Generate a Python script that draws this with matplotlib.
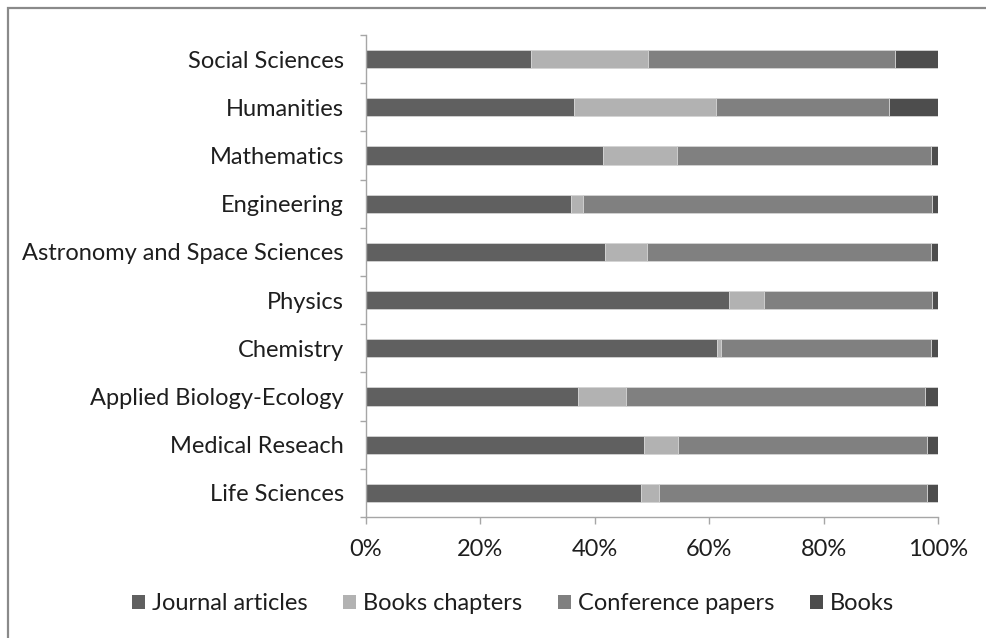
import matplotlib
matplotlib.use("Agg")
import matplotlib.pyplot as plt
from matplotlib.patches import Patch, Rectangle
import numpy as np

plt.rcParams['font.family'] = ['Lato', 'DejaVu Sans']

# Fields, listed bottom to top
fields = ["Life Sciences", "Medical Reseach", "Applied Biology-Ecology", "Chemistry",
          "Physics", "Astronomy and Space Sciences", "Engineering", "Mathematics",
          "Humanities", "Social Sciences"]

# Share of each publication type (%)
journal_articles  = [48.0, 48.6, 37.0, 61.4, 63.4, 41.7, 35.8, 41.4, 36.4, 28.9]
book_chapters     = [3.3, 5.9, 8.5, 0.7, 6.1, 7.4, 2.1, 12.9, 24.8, 20.4]
conference_papers = [46.7, 43.5, 52.3, 36.6, 29.4, 49.6, 61.0, 44.4, 30.3, 43.1]
books             = [2.0, 2.0, 2.2, 1.3, 1.1, 1.3, 1.1, 1.3, 8.5, 7.6]

series = ["Journal articles", "Books chapters", "Conference papers", "Books"]
colors = ["#606060", "#b2b2b2", "#808080", "#4d4d4d"]
xticks = [0, 20, 40, 60, 80, 100]

FS = 17
TXT = "#1e1e1e"

fig = plt.figure(figsize=(9.86, 6.38), dpi=100)
ax = fig.add_axes([366/986, 1 - 517/638, (938 - 366)/986, (517 - 35)/638])

y = np.arange(len(fields))
left = np.zeros(len(fields))
for vals, name, col in zip([journal_articles, book_chapters, conference_papers, books],
                           series, colors):
    ax.barh(y, vals, left=left, height=0.38, color=col, edgecolor="#d4d4d4",
            linewidth=0.6, label=name)
    left += np.array(vals)

ax.set_xlim(0, 100)
ax.set_ylim(-0.5, len(fields) - 0.5)

ax.set_xticks(xticks)
ax.set_xticklabels([f"{t}%" for t in xticks])
ax.set_yticks(y)
ax.set_yticklabels(fields)
ax.set_yticks(np.arange(-0.5, len(fields)), minor=True)

for s in ["top", "right"]:
    ax.spines[s].set_visible(False)
for s in ["left", "bottom"]:
    ax.spines[s].set_color("#a6a6a6")
    ax.spines[s].set_linewidth(1.0)

ax.tick_params(axis="y", which="major", length=0, pad=16, labelsize=FS, labelcolor=TXT)
ax.tick_params(axis="y", which="minor", length=4, color="#a6a6a6", width=1.0)
ax.tick_params(axis="x", which="major", length=5, color="#a6a6a6", width=1.0,
               pad=11, labelsize=FS, labelcolor=TXT)

handles = [Patch(facecolor=c, edgecolor="none") for c in colors]
fig.legend(handles, series, loc="center", bbox_to_anchor=(513/986, 1 - 604/638),
           ncol=4, frameon=False, fontsize=FS, handlelength=0.55, handleheight=0.55,
           handletextpad=0.3, columnspacing=1.5, labelcolor=TXT)

# Outer chart frame
fig.patches.append(Rectangle((8/986, -0.05), 1.2, 1 - 8/638 + 0.05, transform=fig.transFigure,
                             fill=False, edgecolor="#8a8a8a", linewidth=1.6))

fig.savefig("out.png", dpi=100)
